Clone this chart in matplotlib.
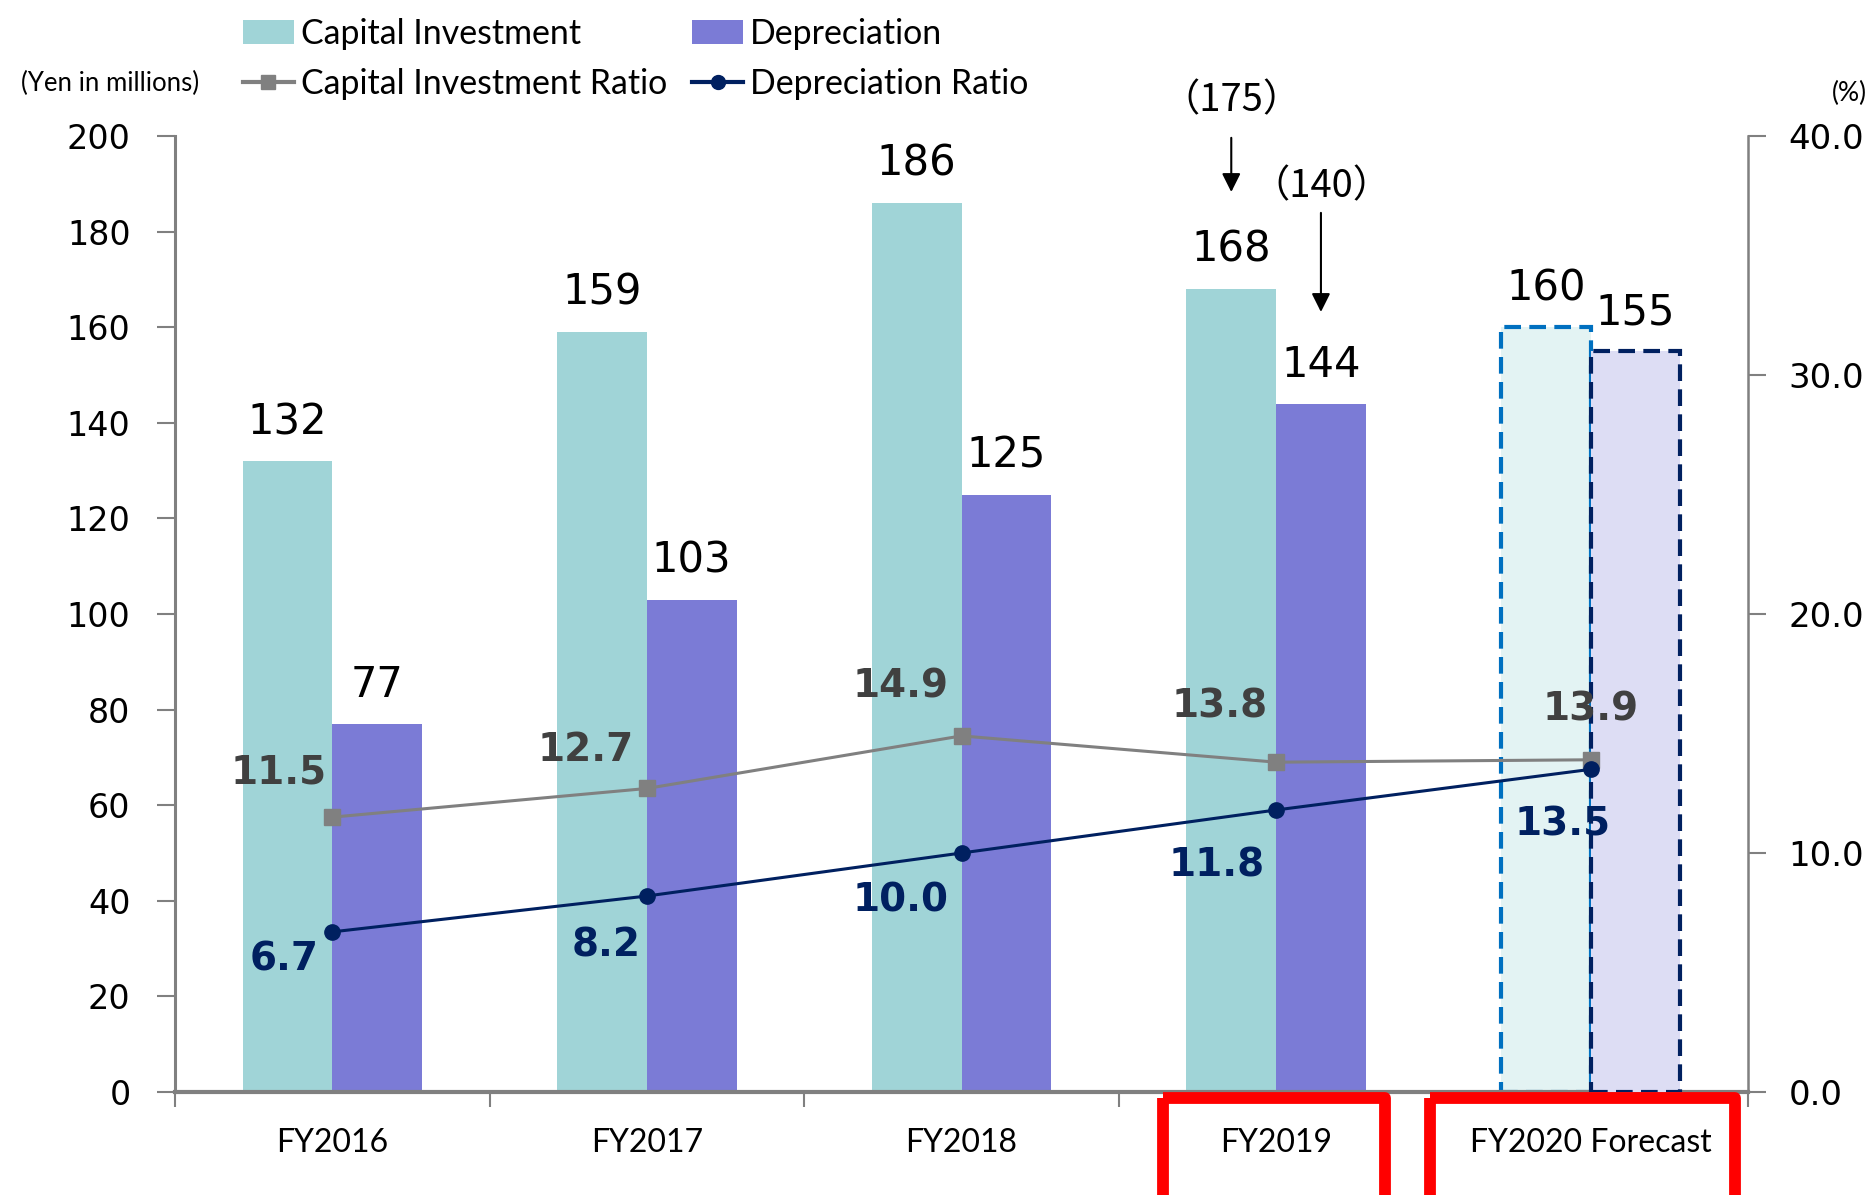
import matplotlib.pyplot as plt
import matplotlib.transforms as mtransforms
from matplotlib.patches import Patch, Rectangle
from matplotlib.lines import Line2D
import numpy as np

# data
years = ["FY2016", "FY2017", "FY2018", "FY2019", "FY2020 Forecast"]
capital = [132, 159, 186, 168, 160]
depreciation = [77, 103, 125, 144, 155]
capital_ratio = [11.5, 12.7, 14.9, 13.8, 13.9]
depreciation_ratio = [6.7, 8.2, 10.0, 11.8, 13.5]
prev_capital_fy2019 = 175
prev_depreciation_fy2019 = 140

TEAL = "#A0D4D7"
PURPLE = "#7B7BD6"
TEAL_LIGHT = "#E3F3F3"
PURPLE_LIGHT = "#DDDDF4"
GRAY = "#808080"
NAVY = "#002060"
LABEL_FONT = "Lato"
CJK = ["Noto Sans CJK JP", "DejaVu Sans"]

fig = plt.figure(figsize=(18.76, 11.95), dpi=100)
ax = fig.add_axes([175 / 1876, 1 - 1092 / 1195, (1748 - 175) / 1876, (1092 - 136) / 1195])
ax2 = ax.twinx()

x = np.arange(len(years))
w = 0.285
n_actual = 4

# actual bars
ax.bar(x[:n_actual] - w / 2, capital[:n_actual], w, color=TEAL, zorder=2)
ax.bar(x[:n_actual] + w / 2, depreciation[:n_actual], w, color=PURPLE, zorder=2)
# forecast bars
ax.bar(x[n_actual:] - w / 2, capital[n_actual:], w, facecolor=TEAL_LIGHT,
       edgecolor="#0070C0", linestyle=(0, (4, 2)), linewidth=3, zorder=2)
ax.bar(x[n_actual:] + w / 2, depreciation[n_actual:], w, facecolor=PURPLE_LIGHT,
       edgecolor=NAVY, linestyle=(0, (4, 2)), linewidth=3, zorder=3)

for i in range(len(years)):
    ax.annotate(str(capital[i]), (x[i] - w / 2, capital[i]), xytext=(0, 18),
                textcoords="offset pixels", ha="center", va="bottom", fontsize=30)
    ax.annotate(str(depreciation[i]), (x[i] + w / 2, depreciation[i]), xytext=(0, 18),
                textcoords="offset pixels", ha="center", va="bottom", fontsize=30)

# previous forecasts for FY2019
ax.text(x[3] - w / 2, 207.3, "（%d）" % prev_capital_fy2019, ha="center", va="center",
        fontsize=27.5, family=CJK, clip_on=False)
ax.annotate("", xy=(x[3] - w / 2, 187.7), xytext=(x[3] - w / 2, 200.2),
            arrowprops=dict(arrowstyle="-|>", color="black", lw=1.5, mutation_scale=28),
            annotation_clip=False)
ax.text(x[3] + w / 2, 189.3, "（%d）" % prev_depreciation_fy2019, ha="center", va="center",
        fontsize=27.5, family=CJK)
ax.annotate("", xy=(x[3] + w / 2, 162.6), xytext=(x[3] + w / 2, 184.5),
            arrowprops=dict(arrowstyle="-|>", color="black", lw=1.5, mutation_scale=28))

# ratio lines
ax2.plot(x, capital_ratio, color=GRAY, lw=2.2, marker="s", markersize=11, zorder=4)
ax2.plot(x, depreciation_ratio, color=NAVY, lw=2.2, marker="o", markersize=11, zorder=4)

cap_off = [(-54, 45), (-61, 38), (-61, 49), (-56, 56), (0, 50)]
dep_off = [(-48, -28), (-41, -49), (-61, -48), (-59, -56), (-28, -55)]
for i in range(len(years)):
    ax2.annotate("%.1f" % capital_ratio[i], (x[i], capital_ratio[i]), xytext=cap_off[i],
                 textcoords="offset pixels", ha="center", va="center",
                 fontsize=28, fontweight="bold", color="#404040", zorder=5)
    ax2.annotate("%.1f" % depreciation_ratio[i], (x[i], depreciation_ratio[i]), xytext=dep_off[i],
                 textcoords="offset pixels", ha="center", va="center",
                 fontsize=28, fontweight="bold", color=NAVY, zorder=5)

# axes styling
ax.set_xlim(-0.5, len(years) - 0.5)
ax.set_ylim(0, 200)
ax.set_yticks(np.arange(0, 201, 20))
ax2.set_ylim(0, 40)
ax2.set_yticks(np.arange(0, 41, 10))
ax2.set_yticklabels(["%.1f" % v for v in np.arange(0, 41, 10)])

ax.set_xticks(x)
ax.set_xticklabels(years, family=LABEL_FONT, fontsize=23)
ax.set_xticks(np.arange(-0.5, len(years), 1), minor=True)
ax.tick_params(axis="x", which="major", length=0, pad=26)
ax.tick_params(axis="x", which="minor", length=11, width=1.5, color=GRAY, direction="out")
ax.tick_params(axis="y", length=13, width=1.5, color=GRAY, labelsize=24, pad=19)
ax2.tick_params(axis="y", length=13, width=1.5, color=GRAY, labelsize=24.5, pad=16)

for s in ["top", "right"]:
    ax.spines[s].set_visible(False)
for s in ["top", "left", "bottom"]:
    ax2.spines[s].set_visible(False)
ax.spines["left"].set_color(GRAY)
ax.spines["left"].set_linewidth(2.2)
ax.spines["bottom"].set_color(GRAY)
ax.spines["bottom"].set_linewidth(3)
ax2.spines["right"].set_color(GRAY)
ax2.spines["right"].set_linewidth(1.8)
ax.set_zorder(ax2.get_zorder() - 1)
ax.patch.set_visible(False)

# red boxes around the highlighted years
trans = mtransforms.blended_transform_factory(ax.transData, ax.transAxes)
for x0, x1 in [(2.64, 3.346), (3.49, 4.46)]:
    ax.add_patch(Rectangle((x0, -0.006), x1 - x0, -0.2, transform=trans, fill=False,
                           edgecolor="#FF0000", linewidth=8.5, joinstyle="round",
                           clip_on=False, zorder=6))

# unit labels
fig.text(110 / 1876, 1 - 83 / 1195, "(Yen in millions)", ha="center", va="center",
         fontsize=18.5, family=LABEL_FONT)
fig.text(1849 / 1876, 1 - 93 / 1195, "(%)", ha="center", va="center",
         fontsize=19, family=LABEL_FONT)

# legend
handles = [
    Patch(facecolor=TEAL),
    Line2D([], [], color=GRAY, lw=3, marker="s", markersize=10),
    Patch(facecolor=PURPLE),
    Line2D([], [], color=NAVY, lw=3, marker="o", markersize=10),
]
labels = ["Capital Investment", "Capital Investment Ratio", "Depreciation", "Depreciation Ratio"]
fig.legend(handles, labels, loc="upper left", bbox_to_anchor=(226 / 1876, 1 - 1 / 1195),
           ncol=2, frameon=False, borderpad=0, handlelength=1.5, handleheight=0.72,
           handletextpad=0.2, columnspacing=0.75, labelspacing=0.52,
           prop={"family": LABEL_FONT, "size": 24.4})

fig.savefig("out.png", dpi=100)
